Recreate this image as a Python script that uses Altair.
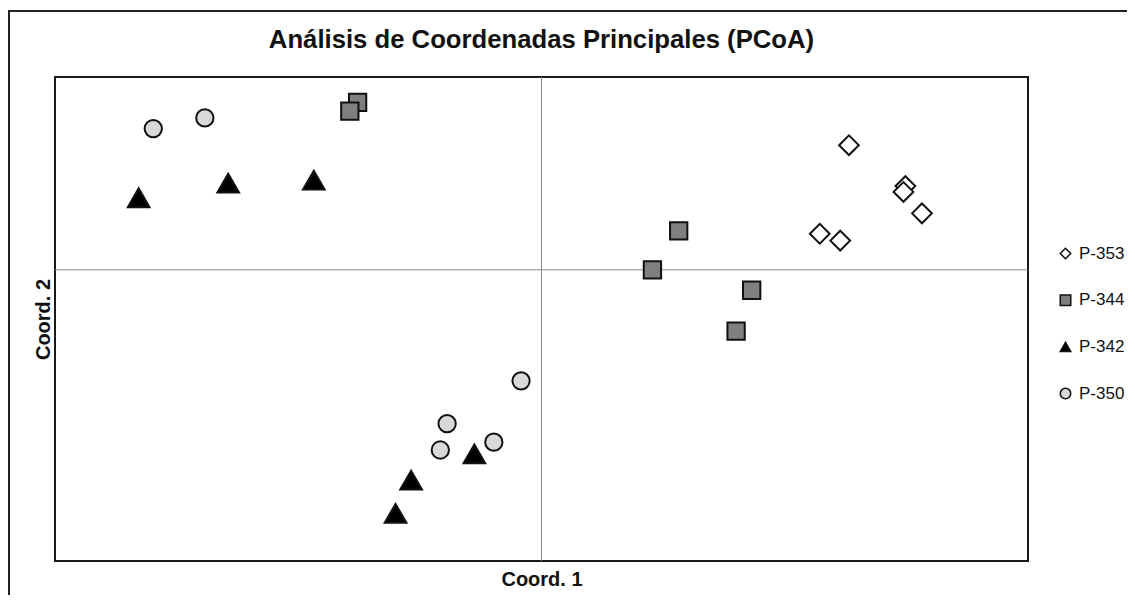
import altair as alt
import pandas as pd

# ---- data ----
groups_order = ["P-353", "P-344", "P-342", "P-350"]

group = (["P-350"] * 6 + ["P-342"] * 6 + ["P-344"] * 6 + ["P-353"] * 6)
coord1 = [
    -0.399, -0.346, -0.021, -0.097, -0.104, -0.049,   # P-350
    -0.414, -0.322, -0.234, -0.069, -0.134, -0.150,   # P-342
    -0.189, -0.197, 0.141, 0.114, 0.216, 0.200,       # P-344
    0.316, 0.374, 0.372, 0.391, 0.286, 0.307,         # P-353
]
coord2 = [
    0.145, 0.156, -0.114, -0.158, -0.185, -0.177,     # P-350
    0.074, 0.089, 0.092, -0.189, -0.216, -0.250,      # P-342
    0.172, 0.163, 0.040, 0.000, -0.021, -0.063,       # P-344
    0.128, 0.086, 0.080, 0.058, 0.037, 0.030,         # P-353
]

shapes = ["diamond", "square", "triangle-up", "circle"]
fills = ["#ffffff", "#7f7f7f", "#000000", "#d9d9d9"]
strokes = ["#111111", "#111111", "#111111", "#111111"]
draw_order = ["P-350", "P-342", "P-344", "P-353"]
draw_sizes = [300, 470, 300, 390]

df = pd.DataFrame({"Grupo": group, "c1": coord1, "c2": coord2})

FONT = "Liberation Sans"
xscale = alt.Scale(domain=[-0.5, 0.5], nice=False, zero=False)
yscale = alt.Scale(domain=[-0.299, 0.198], nice=False, zero=False)
fill_scale = alt.Scale(domain=groups_order, range=fills)
shape_scale = alt.Scale(domain=groups_order, range=shapes)
stroke_scale = alt.Scale(domain=groups_order, range=strokes)

legend = alt.Legend(
    title="", orient="none", legendX=1002, legendY=168,
    labelFont=FONT, labelFontSize=17, labelColor="#111111", labelOffset=5,
    symbolSize=110, rowPadding=28.7,
    symbolStrokeWidth=1.5,
)

layers = []
for g, s in zip(draw_order, draw_sizes):
    layers.append(
        alt.Chart(df).transform_filter(alt.datum.Grupo == g).mark_point(
            filled=True, strokeWidth=2, opacity=1, size=s
        ).encode(
            x=alt.X("c1:Q", scale=xscale, title="Coord. 1"),
            y=alt.Y("c2:Q", scale=yscale, title="Coord. 2"),
            fill=alt.Fill("Grupo:N", scale=fill_scale, legend=legend),
            shape=alt.Shape("Grupo:N", scale=shape_scale, legend=legend),
            stroke=alt.Stroke("Grupo:N", scale=stroke_scale, legend=legend),
        )
    )

zero_df = pd.DataFrame({"v": [0.0]})
vline = alt.Chart(zero_df).mark_rule(color="#8a8a8a", strokeWidth=1).encode(
    x=alt.X("v:Q", scale=xscale, title="Coord. 1")
)
hline = alt.Chart(zero_df).mark_rule(color="#8a8a8a", strokeWidth=1).encode(
    y=alt.Y("v:Q", scale=yscale, title="Coord. 2")
)

one = pd.DataFrame({"k": [1]})
border_left = alt.Chart(one).mark_rule(color="#222222", strokeWidth=2).encode(
    x=alt.value(-46), y=alt.value(-66), y2=alt.value(518)
)
border_top = alt.Chart(one).mark_rule(color="#222222", strokeWidth=2).encode(
    x=alt.value(-47), x2=alt.value(1072), y=alt.value(-66)
)

chart = alt.layer(vline, hline, *layers, border_left, border_top).properties(
    width=973,
    height=484,
    padding={"left": 47, "top": 69, "right": 99, "bottom": 34},
    autosize=alt.AutoSizeParams(type="none"),
    title=alt.Title(
        "Análisis de Coordenadas Principales (PCoA)",
        font=FONT, fontSize=25.7, fontWeight="bold", color="#111111",
        anchor="middle", frame="group", baseline="alphabetic",
        offset=0, dy=64,
    ),
).configure_view(
    stroke="#1a1a1a", strokeWidth=2
).configure_axis(
    labels=False, ticks=False, domain=False, grid=False,
    titleFont=FONT, titleFontSize=20, titleFontWeight="bold", titleColor="#111111",
).configure_axisX(
    titlePadding=8
).configure_axisY(
    titlePadding=2
)

chart.save("out.html", embed_options={"renderer": "svg", "actions": False})
